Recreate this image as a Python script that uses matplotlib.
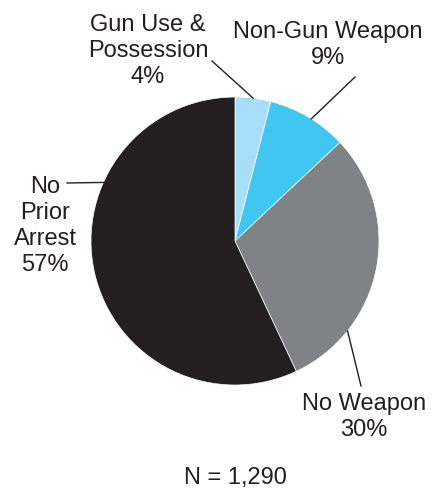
import numpy as np
import matplotlib
matplotlib.use("Agg")
import matplotlib.pyplot as plt

# Prior arrest categories and their shares (%)
categories = ["Gun Use &\nPossession", "Non-Gun Weapon", "No Weapon", "No\nPrior\nArrest"]
shares = [4, 9, 30, 57]
colors = ["#a6dff7", "#41c6f2", "#808285", "#231f20"]
total_n = "N = 1,290"

plt.rcParams["font.family"] = ["Liberation Sans", "DejaVu Sans"]

W, H = 448, 490
fig = plt.figure(figsize=(W / 100, H / 100), dpi=100)
ax = fig.add_axes([0, 0, 1, 1])

cx, cy, r = 235, H - 241, 144
ax.pie(shares, colors=colors, startangle=90, counterclock=False,
       center=(cx, cy), radius=r, frame=True,
       wedgeprops=dict(linewidth=0.5, edgecolor="white"))
ax.set_xlim(0, W)
ax.set_ylim(0, H)
ax.set_aspect("equal")
ax.axis("off")

fs = 17
def edge(angle_deg, rr=r):
    a = np.deg2rad(angle_deg)
    return cx + rr * np.cos(a), cy + rr * np.sin(a)

# label text, text centre (px from top-left), leader start angle, leader end
labels = [
    (f"{categories[0]}\n{shares[0]}%", (148, 51), 82.8, (212, 61)),
    (f"{categories[1]}\n{shares[1]}%", (328, 45), 58.0, (355, 77)),
    (f"{categories[2]}\n{shares[2]}%", (364, 417), -38.6, (361, 386)),
    (f"{categories[3]}\n{shares[3]}%", (45, 226), 156.0, (67, 183)),
]
for text, (tx, ty), ang, (lx, ly) in labels:
    ax.text(tx, H - ty, text, ha="center", va="center", fontsize=fs,
            color="#231f20", linespacing=1.25)
    x0, y0 = edge(ang)
    ax.plot([x0, lx], [y0, H - ly], color="#231f20", lw=1.0)

ax.text(235, H - 478, total_n, ha="center", va="center", fontsize=fs,
        color="#231f20")

fig.savefig("out.png", dpi=100)
